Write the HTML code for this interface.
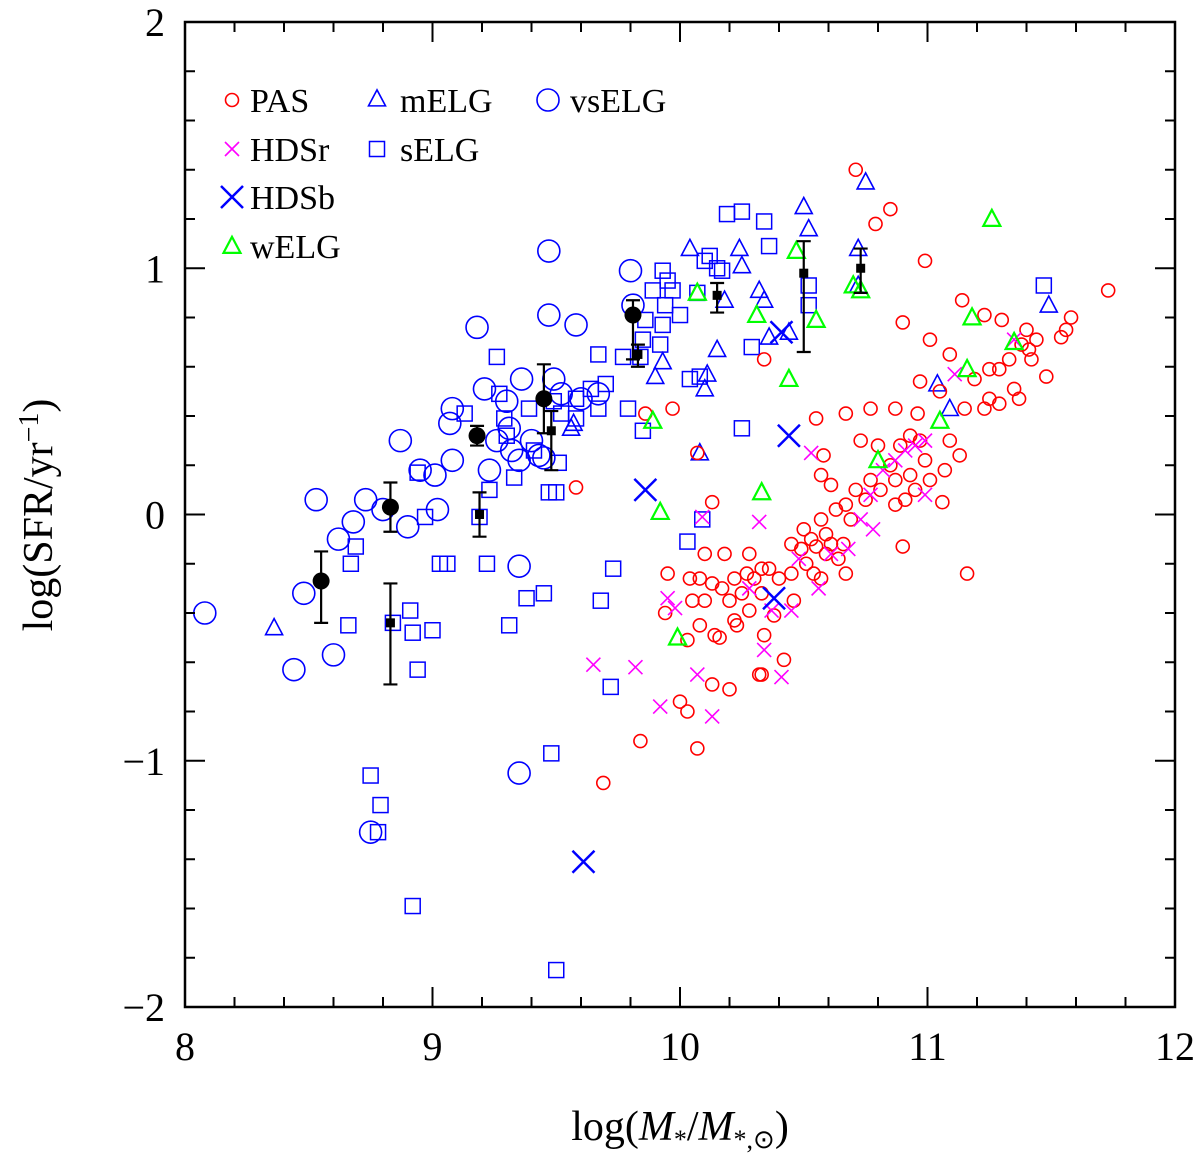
<!DOCTYPE html>
<html><head><meta charset="utf-8"><style>
html,body{margin:0;padding:0;background:#fff;}
svg{display:block;}
text{font-family:"Liberation Serif",serif;}
</style></head><body>
<svg id="chart" width="1200" height="1159" viewBox="0 0 1200 1159" xmlns="http://www.w3.org/2000/svg">
<g id="marks"></g>
<g id="axes"></g>
<g id="legend"></g>
</svg>
<script>
const xTicks=[8,9,10,11,12];
const yTicks=[-2,-1,0,1,2];
const yTickLabels=["\u22122","\u22121","0","1","2"];
const pasX=[9.58,9.86,9.97,10.07,10.13,10.34,10.71,10.79,10.85,10.99,10.90,10.55,10.58,10.67,10.57,11.14,11.23,11.30,11.73,11.58,11.56,11.54,11.48,11.44,11.40,11.38,11.41,11.35,11.37,11.29,11.25,11.23,11.19,11.29,11.25,11.33,11.15,11.09,11.13,11.07,11.06,10.96,10.97,11.05,10.93,10.97,10.89,10.99,10.93,10.87,10.85,10.80,10.77,10.81,10.75,10.71,10.67,10.69,10.61,10.63,10.57,10.59,10.53,10.49,10.51,10.55,10.61,10.67,10.54,10.57,10.45,10.40,10.36,10.33,10.28,10.27,10.22,10.25,10.20,10.17,10.13,10.08,10.10,10.04,10.05,10.08,10.03,10.14,10.16,10.23,10.22,10.34,10.32,10.42,10.28,10.38,10.46,10.33,10.30,10.45,10.50,10.59,10.64,10.66,10.87,10.91,10.95,11.01,10.90,11.16,9.84,9.69,10.00,10.03,10.07,10.13,10.20,10.33,9.94,9.95,10.10,10.18,10.73,10.77,10.87,11.01,11.09,11.42];
const pasY=[0.11,0.41,0.43,0.25,0.05,0.63,1.40,1.18,1.24,1.03,0.78,0.39,0.24,0.41,0.16,0.87,0.81,0.79,0.91,0.80,0.75,0.72,0.56,0.71,0.75,0.69,0.67,0.51,0.47,0.45,0.47,0.43,0.55,0.59,0.59,0.63,0.43,0.30,0.24,0.18,0.05,0.41,0.54,0.50,0.32,0.30,0.28,0.22,0.16,0.14,0.20,0.28,0.14,0.10,0.06,0.10,0.04,-0.02,0.12,0.02,-0.02,-0.08,-0.10,-0.14,-0.20,-0.13,-0.12,-0.24,-0.24,-0.26,-0.24,-0.26,-0.22,-0.22,-0.16,-0.24,-0.26,-0.32,-0.35,-0.30,-0.28,-0.26,-0.35,-0.26,-0.35,-0.45,-0.51,-0.49,-0.50,-0.45,-0.43,-0.49,-0.65,-0.59,-0.39,-0.41,-0.35,-0.32,-0.26,-0.12,-0.06,-0.16,-0.18,-0.12,0.04,0.06,0.10,0.14,-0.13,-0.24,-0.92,-1.09,-0.76,-0.80,-0.95,-0.69,-0.71,-0.65,-0.40,-0.24,-0.16,-0.16,0.30,0.43,0.43,0.71,0.65,0.63];
const hdsrX=[9.65,9.82,9.92,9.98,10.07,10.09,10.13,9.95,10.32,10.28,10.34,10.41,10.37,10.45,10.48,10.53,10.56,10.61,10.68,10.73,10.77,10.82,10.87,10.91,10.95,10.99,10.99,11.11,11.35,10.78];
const hdsrY=[-0.61,-0.62,-0.78,-0.38,-0.65,-0.01,-0.82,-0.34,-0.03,-0.30,-0.55,-0.66,-0.39,-0.39,-0.18,0.25,-0.30,-0.16,-0.14,-0.02,0.08,0.18,0.22,0.26,0.28,0.30,0.08,0.57,0.71,-0.06];
const hdsbX=[9.86,9.61,10.41,10.44,10.38];
const hdsbY=[0.10,-1.41,0.74,0.32,-0.34];
const welgX=[9.89,9.92,9.99,10.07,10.31,10.33,10.44,10.47,10.55,10.70,10.73,10.80,11.05,11.16,11.18,11.26,11.35];
const welgY=[0.38,0.01,-0.50,0.90,0.81,0.09,0.55,1.07,0.79,0.93,0.91,0.22,0.38,0.59,0.80,1.20,0.70];
const melgX=[8.36,9.57,9.56,9.90,9.93,10.08,10.10,10.15,10.04,10.24,10.34,10.36,10.44,10.50,10.52,10.75,10.72,10.72,11.04,11.09,11.49,10.25,10.18,10.32,10.11];
const melgY=[-0.46,0.37,0.35,0.56,0.62,0.25,0.51,0.67,1.08,1.08,0.87,0.72,0.74,1.25,1.16,1.35,1.08,0.93,0.53,0.43,0.85,1.01,0.87,0.91,0.57];
const selgX=[8.69,8.67,8.66,8.75,8.79,8.78,8.84,8.91,8.92,8.94,8.92,8.94,8.97,9.00,9.03,9.06,9.13,9.19,9.22,9.23,9.26,9.27,9.29,9.30,9.31,9.33,9.38,9.39,9.41,9.45,9.47,9.49,9.50,9.51,9.52,9.50,9.48,9.58,9.58,9.67,9.67,9.64,9.70,9.68,9.73,9.79,9.72,9.77,9.84,9.85,9.85,9.86,9.89,9.93,9.93,9.92,9.94,9.95,9.97,10.00,10.03,10.07,10.08,10.09,10.10,10.12,10.15,10.17,10.19,10.25,10.25,10.29,10.34,10.36,10.52,10.52,11.47,10.04];
const selgY=[-0.13,-0.20,-0.45,-1.06,-1.18,-1.29,-0.44,-0.39,-0.48,-0.63,-1.59,0.17,-0.01,-0.47,-0.20,-0.20,0.41,-0.01,-0.20,0.10,0.64,0.49,0.39,0.32,-0.45,0.15,-0.34,0.43,0.26,-0.32,0.09,0.46,0.09,0.21,0.41,-1.85,-0.97,0.47,0.39,0.65,0.43,0.51,0.53,-0.35,-0.22,0.43,-0.70,0.64,0.64,0.71,0.34,0.79,0.91,0.77,0.99,0.69,0.85,0.95,0.91,0.81,-0.11,0.90,0.56,-0.02,1.03,1.05,1.00,0.99,1.22,1.23,0.35,0.68,1.19,1.09,0.85,0.93,0.93,0.55];
const vselgX=[8.08,8.44,8.48,8.53,8.60,8.62,8.68,8.73,8.75,8.80,8.87,8.90,8.95,9.01,9.02,9.07,9.08,9.08,9.18,9.21,9.23,9.26,9.30,9.31,9.32,9.35,9.35,9.36,9.40,9.43,9.47,9.47,9.49,9.52,9.58,9.60,9.67,9.80,9.81,9.35,9.45];
const vselgY=[-0.40,-0.63,-0.32,0.06,-0.57,-0.10,-0.03,0.06,-1.29,0.02,0.30,-0.05,0.18,0.16,0.02,0.37,0.43,0.22,0.76,0.51,0.18,0.30,0.46,0.35,0.26,0.22,-0.21,0.55,0.30,0.24,1.07,0.81,0.55,0.49,0.77,0.47,0.49,0.99,0.85,-1.05,0.23];
const meanX=[8.55,8.83,9.18,9.45,9.81];
const meanY=[-0.27,0.03,0.32,0.47,0.81];
const meanLo=[-0.44,-0.07,0.28,0.33,0.63];
const meanHi=[-0.15,0.13,0.36,0.61,0.87];
const medX=[8.83,9.19,9.48,9.83,10.15,10.50,10.73];
const medY=[-0.44,0.00,0.34,0.65,0.89,0.98,1.00];
const medLo=[-0.69,-0.09,0.18,0.60,0.82,0.66,0.90];
const medHi=[-0.28,0.09,0.42,0.69,0.94,1.11,1.08];

const NS="http://www.w3.org/2000/svg";
const X0=185,X1=1175,Y0=1007,Y1=22;
function sx(v){return X0+(v-8)/4*(X1-X0);}
function sy(v){return Y0-(v+2)/4*(Y0-Y1);}
function mk(tag,attrs,parent){const e=document.createElementNS(NS,tag);for(const k in attrs)e.setAttribute(k,attrs[k]);parent.appendChild(e);return e;}
const marks=document.getElementById('marks');
function circle(cx,cy,r,col,w,name){const e=mk('circle',{cx:cx,cy:cy,r:r,fill:'none',stroke:col,'stroke-width':w},marks);

}
function tri(cx,cy,s,col,w,name,p){const h=s*0.9;const e=mk('polygon',{points:`${cx},${cy-h*0.6} ${cx-s/2},${cy+h*0.45} ${cx+s/2},${cy+h*0.45}`,fill:'none',stroke:col,'stroke-width':w},p||marks);

}
function sq(cx,cy,s,col,name,p){const e=mk('rect',{x:cx-s/2,y:cy-s/2,width:s,height:s,fill:'none',stroke:col,'stroke-width':1.5},p||marks);

}
function cross(cx,cy,s,col,w,name,p){const e=mk('path',{d:`M${cx-s} ${cy-s}L${cx+s} ${cy+s}M${cx-s} ${cy+s}L${cx+s} ${cy-s}`,stroke:col,'stroke-width':w,fill:'none'},p||marks);

}
const BLUE='#0000ff',RED='#ff0000',MAG='#ff00ff',GRN='#00ff00';
vselgX.forEach((v,i)=>circle(sx(v),sy(vselgY[i]),11,BLUE,1.6,'vselg-point'));
selgX.forEach((v,i)=>sq(sx(v),sy(selgY[i]),15,BLUE,'selg-point'));
melgX.forEach((v,i)=>tri(sx(v),sy(melgY[i]),17,BLUE,1.6,'melg-point'));
pasX.forEach((v,i)=>circle(sx(v),sy(pasY[i]),6.5,RED,1.6,'pas-point'));
hdsrX.forEach((v,i)=>cross(sx(v),sy(hdsrY[i]),7,MAG,1.6,'hdsr-point'));
welgX.forEach((v,i)=>tri(sx(v),sy(welgY[i]),17,GRN,2.2,'welg-point'));
hdsbX.forEach((v,i)=>cross(sx(v),sy(hdsbY[i]),11,BLUE,2.5,'hdsb-point'));
function ebar(x,lo,hi,name){const px=sx(x),a=sy(lo),b=sy(hi);const e=mk('path',{d:`M${px} ${a}L${px} ${b}M${px-7} ${a}L${px+7} ${a}M${px-7} ${b}L${px+7} ${b}`,stroke:'#000','stroke-width':2.2,fill:'none'},marks);

}
meanX.forEach((v,i)=>{ebar(v,meanLo[i],meanHi[i],'mean-error-bar');const e=mk('circle',{cx:sx(v),cy:sy(meanY[i]),r:8.5,fill:'#000'},marks);

});
medX.forEach((v,i)=>{ebar(v,medLo[i],medHi[i],'median-error-bar');const e=mk('rect',{x:sx(v)-4.5,y:sy(medY[i])-4.5,width:9,height:9,fill:'#000'},marks);

});

const axes=document.getElementById('axes');
const fr=mk('rect',{x:X0,y:Y1,width:X1-X0,height:Y0-Y1,fill:'none',stroke:'#000','stroke-width':2.5},axes);


let d='';
for(let v=8;v<=12.001;v+=0.2){const p=sx(v);const major=Math.abs(v-Math.round(v))<0.01;const L=major?20:10;d+=`M${p} ${Y0}L${p} ${Y0-L}M${p} ${Y1}L${p} ${Y1+L}`;}
for(let v=-2;v<=2.001;v+=0.2){const p=sy(v);const major=Math.abs(v-Math.round(v))<0.01;const L=major?20:10;d+=`M${X0} ${p}L${X0+L} ${p}M${X1} ${p}L${X1-L} ${p}`;}
const tk=mk('path',{d:d,stroke:'#000','stroke-width':2,fill:'none'},axes);


xTicks.forEach(v=>{const t=mk('text',{x:sx(v),y:1060,'font-size':40,'text-anchor':'middle'},axes);t.textContent=v;

});
yTicks.forEach((v,i)=>{const t=mk('text',{x:165,y:sy(v)+14,'font-size':40,'text-anchor':'end'},axes);t.textContent=yTickLabels[i];

});
const xt=mk('text',{x:680,y:1140,'font-size':42,'text-anchor':'middle'},axes);
xt.innerHTML='log(<tspan font-style="italic">M</tspan><tspan font-size="26" dy="8">*</tspan><tspan dy="-8">/</tspan><tspan font-style="italic">M</tspan><tspan font-size="26" dy="8">*,⊙</tspan><tspan dy="-8">)</tspan>';


const yt=mk('text',{x:0,y:0,'font-size':42,'text-anchor':'middle',transform:'translate(52,515) rotate(-90)'},axes);
yt.innerHTML='log(SFR/yr<tspan font-size="28" dy="-14">−1</tspan><tspan dy="14">)</tspan>';



const lg=document.getElementById('legend');
function ltext(x,y,s,name){const t=mk('text',{x:x,y:y,'font-size':34},lg);t.textContent=s;

}
function lc(cx,cy,r,col,w){const e=mk('circle',{cx:cx,cy:cy,r:r,fill:'none',stroke:col,'stroke-width':w},lg);

}
lc(232,100,6.5,RED,1.6);ltext(250,112,'PAS','legend-pas');
cross(232,149,7,MAG,1.6,'legend-symbol',lg);ltext(250,161,'HDSr','legend-hdsr');
cross(232,197,11,BLUE,2.5,'legend-symbol',lg);ltext(250,209,'HDSb','legend-hdsb');
tri(232,246,17,GRN,2.2,'legend-symbol',lg);ltext(250,258,'wELG','legend-welg');
tri(377,99,17,BLUE,1.6,'legend-symbol',lg);ltext(400,112,'mELG','legend-melg');
sq(377,149,15,BLUE,'legend-symbol',lg);ltext(400,161,'sELG','legend-selg');
lc(548,100,11,BLUE,1.6);ltext(570,112,'vsELG','legend-vselg');
</script>
</body></html>
